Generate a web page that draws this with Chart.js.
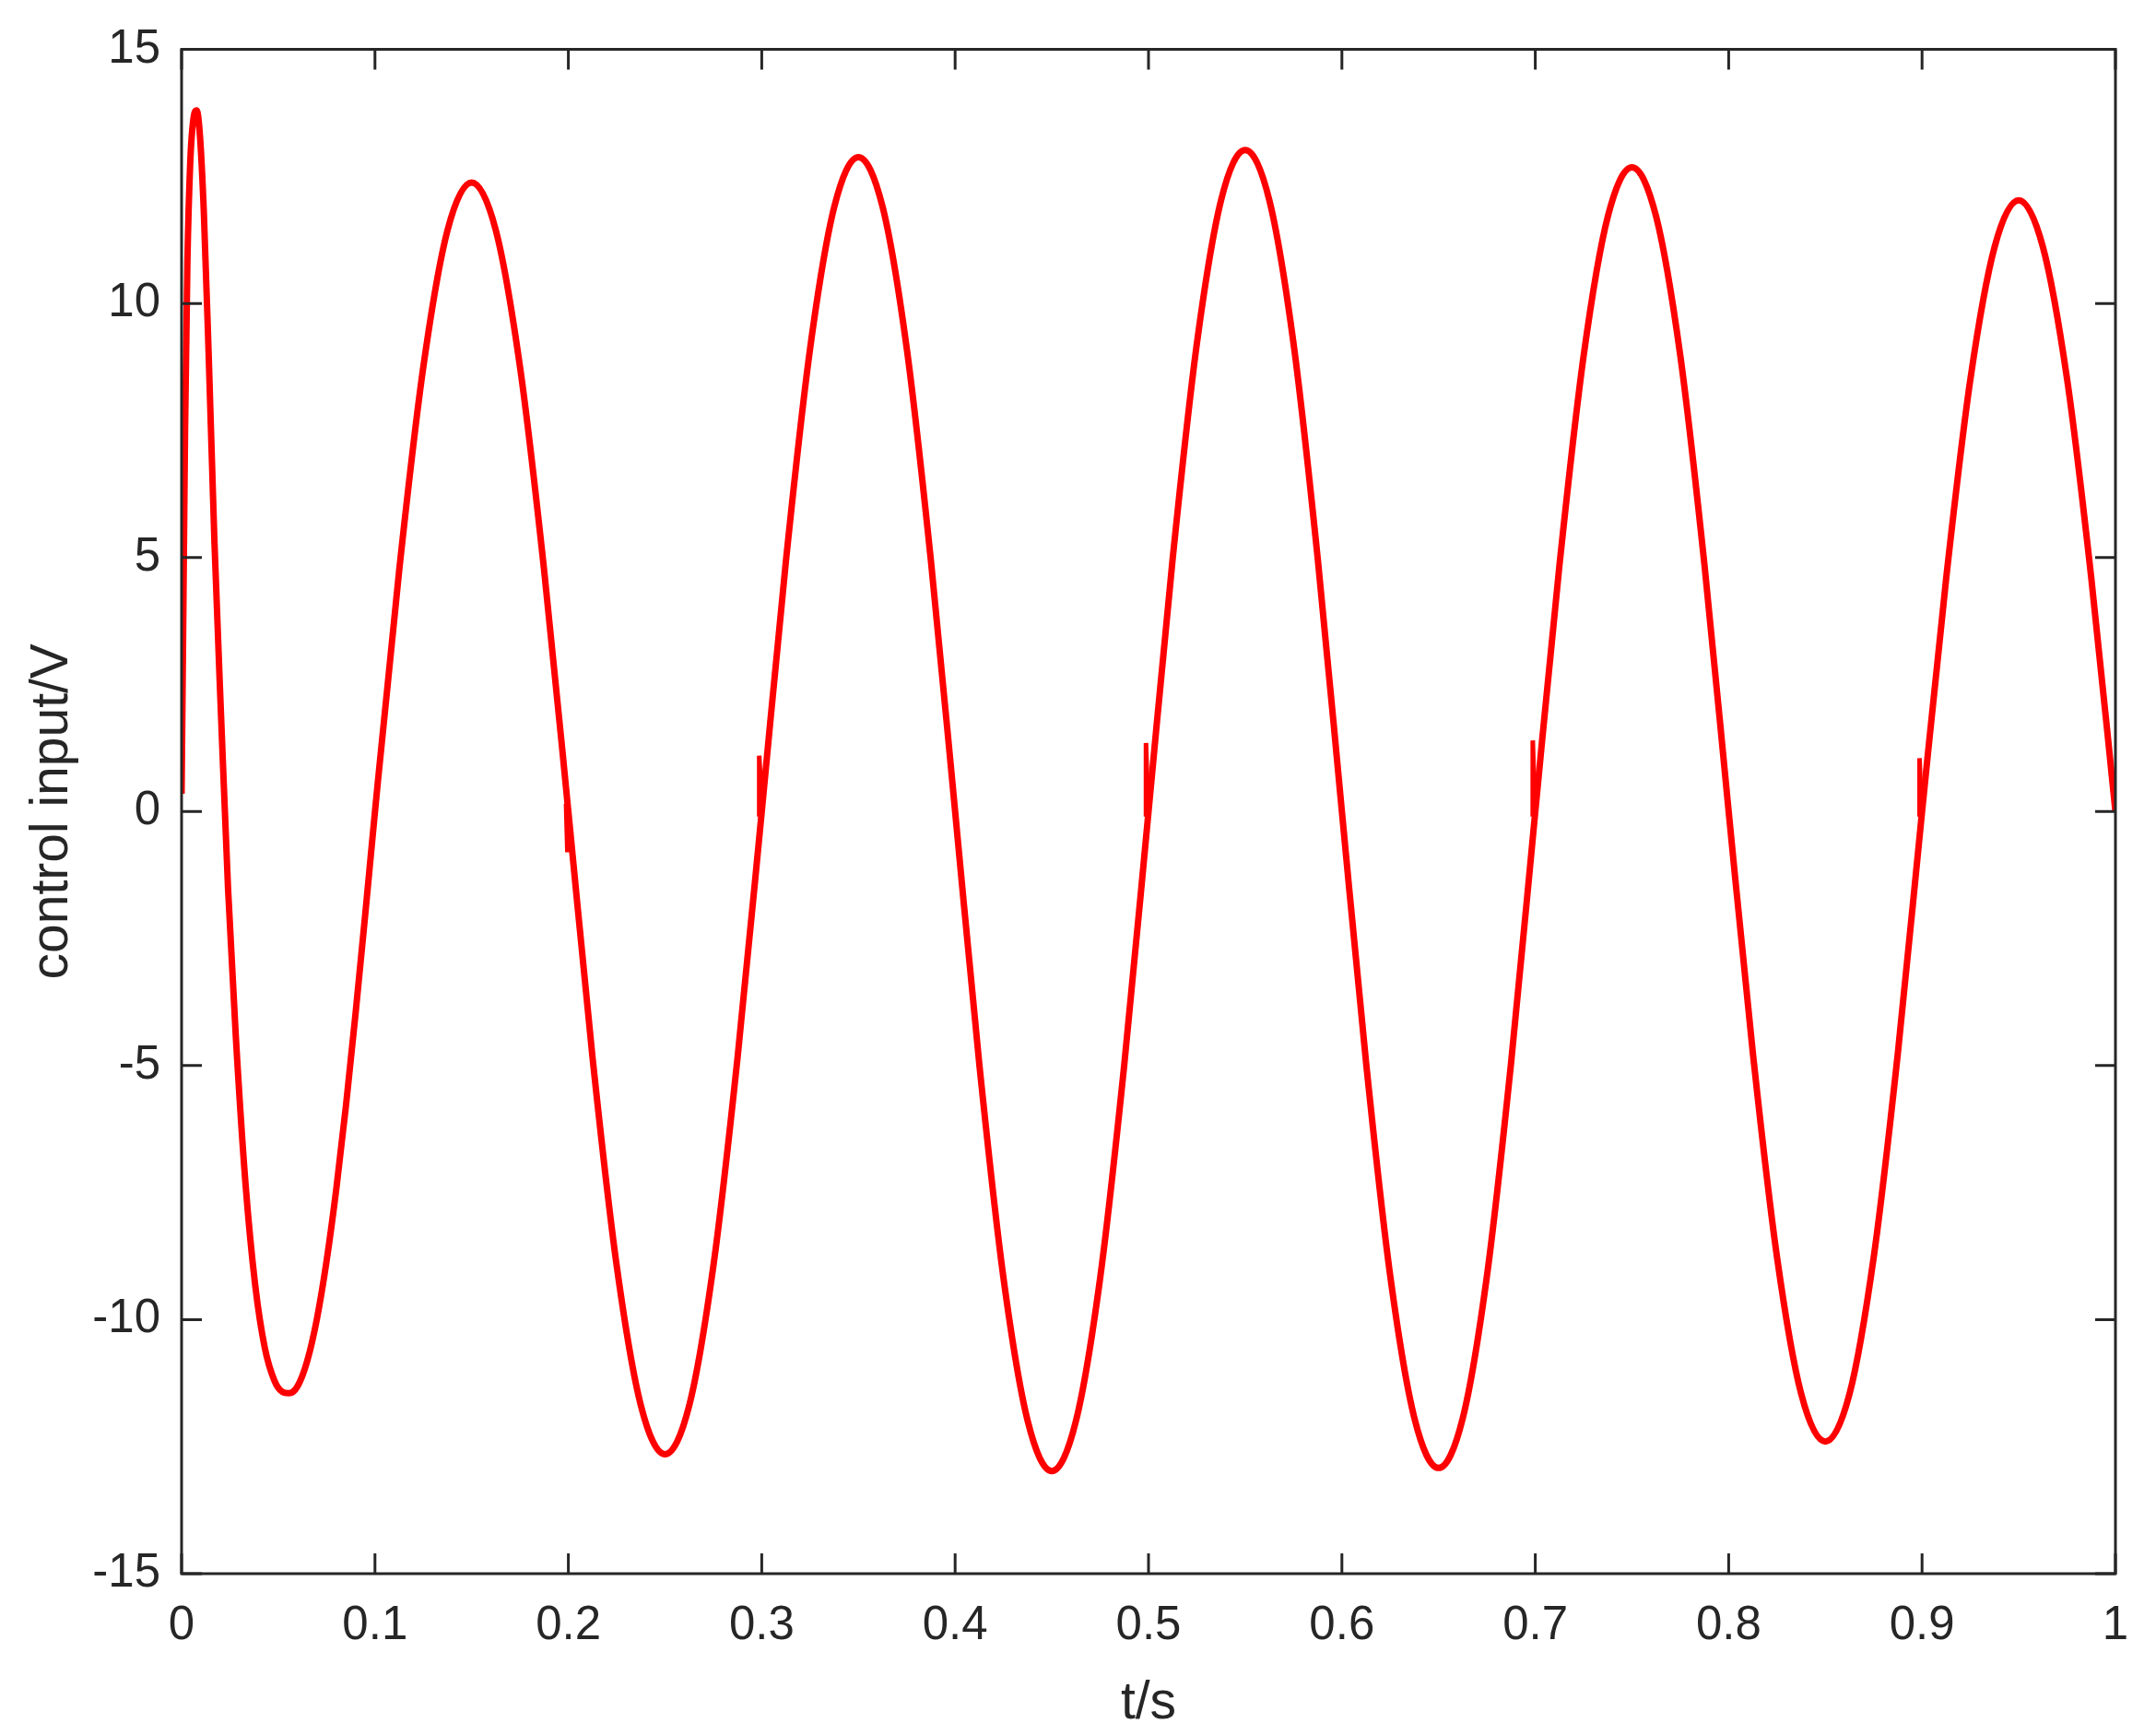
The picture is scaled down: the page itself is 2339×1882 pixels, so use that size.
<!DOCTYPE html>
<html>
<head>
<meta charset="utf-8">
<script src="https://cdn.jsdelivr.net/npm/chart.js@4/dist/chart.umd.min.js"></script>
<style>
  html, body { margin: 0; padding: 0; background: #ffffff; }
  #wrap { width: 2339px; height: 1882px; }
</style>
</head>
<body>
<div id="wrap"><canvas id="c" width="2339" height="1882"></canvas></div>
<script>
// ---- data ----
// main waveform
const timeValues = [
  0, 0.0008, 0.0018, 0.003, 0.0045, 0.006, 0.0078, 0.0095, 0.0115, 0.014, 0.017, 0.0205, 0.024,
  0.028, 0.033, 0.038, 0.043, 0.048, 0.052, 0.0555, 0.06, 0.065, 0.07, 0.075, 0.08, 0.085, 0.09, 0.095, 0.1,
  0.1125, 0.125, 0.1375, 0.15, 0.1625, 0.175, 0.1875, 0.2,
  0.2125, 0.225, 0.2375, 0.25, 0.2625, 0.275, 0.2875, 0.3,
  0.3125, 0.325, 0.3375, 0.35, 0.3625, 0.375, 0.3875, 0.4,
  0.4125, 0.425, 0.4375, 0.45, 0.4625, 0.475, 0.4875, 0.5,
  0.5125, 0.525, 0.5375, 0.55, 0.5625, 0.575, 0.5875, 0.6,
  0.6125, 0.625, 0.6375, 0.65, 0.6625, 0.675, 0.6875, 0.7,
  0.7125, 0.725, 0.7375, 0.75, 0.7625, 0.775, 0.7875, 0.8,
  0.8125, 0.825, 0.8375, 0.85, 0.8625, 0.875, 0.8875, 0.9,
  0.9125, 0.925, 0.9375, 0.95, 0.9625, 0.975, 0.9875, 1.0
];
const controlInput = [
  0.35, 3.5, 7.5, 10.8, 12.8, 13.6, 13.8, 13.3, 11.8, 9.0, 5.3, 1.8, -1.5,
  -4.4, -7.3, -9.3, -10.55, -11.2, -11.42, -11.45, -11.31, -10.81, -9.98, -8.84, -7.43, -5.79, -3.96, -2.01, 0,
  4.74, 8.75, 11.44, 12.38, 11.44, 8.75, 4.74, 0,
  -4.84, -8.94, -11.69, -12.65, -11.69, -8.94, -4.84, 0,
  4.93, 9.11, 11.9, 12.88, 11.9, 9.11, 4.93, 0,
  -4.97, -9.18, -11.99, -12.98, -11.99, -9.18, -4.97, 0,
  4.98, 9.21, 12.03, 13.02, 12.03, 9.21, 4.98, 0,
  -4.94, -9.14, -11.94, -12.92, -11.94, -9.14, -4.94, 0,
  4.85, 8.97, 11.71, 12.68, 11.71, 8.97, 4.85, 0,
  -4.75, -8.77, -11.46, -12.4, -11.46, -8.77, -4.75, 0,
  4.6, 8.51, 11.11, 12.03, 11.11, 8.51, 4.6, 0
];
// small switching spikes near the zero crossings
const glitchTimes = [
  [0.1988, 0.1995, 0.2003],
  [0.2986, 0.2987, 0.2993, 0.3008],
  [0.4986, 0.4987, 0.4993, 0.5008],
  [0.6986, 0.6987, 0.6993, 0.7008],
  [0.8986, 0.8987, 0.8993, 0.9008]
];
const glitchValues = [
  [0.15, -0.8, -0.3],
  [-0.1, 1.1, 0.65, 0.55],
  [-0.1, 1.35, 0.6, 0.55],
  [-0.1, 1.4, 0.6, 0.55],
  [-0.1, 1.05, 0.35, 0.45]
];
const xTickValues = [0, 0.1, 0.2, 0.3, 0.4, 0.5, 0.6, 0.7, 0.8, 0.9, 1];
const xTickLabels = ['0', '0.1', '0.2', '0.3', '0.4', '0.5', '0.6', '0.7', '0.8', '0.9', '1'];
const yTickValues = [-15, -10, -5, 0, 5, 10, 15];
const yTickLabels = ['-15', '-10', '-5', '0', '5', '10', '15'];
const xAxisTitle = 't/s';
const yAxisTitle = 'control input/V';

// ---- chart ----
const AXIS_COLOR = '#262626';
const LINE_COLOR = '#ff0000';
const FONT_FAMILY = "'Liberation Sans', Arial, Helvetica, sans-serif";
const mainPoints = timeValues.map((t, i) => ({ x: t, y: controlInput[i] }));

const datasets = [{
  data: mainPoints,
  borderColor: LINE_COLOR,
  borderWidth: 7,
  pointRadius: 0,
  fill: false,
  cubicInterpolationMode: 'monotone'
}];
glitchTimes.forEach((ts, k) => {
  datasets.push({
    data: ts.map((t, i) => ({ x: t, y: glitchValues[k][i] })),
    borderColor: LINE_COLOR,
    borderWidth: 5,
    pointRadius: 0,
    fill: false,
    tension: 0
  });
});

const matlabFrame = {
  id: 'matlabFrame',
  afterDatasetsDraw(chart) {
    const { ctx, chartArea: a, scales } = chart;
    const tick = 22;
    ctx.save();
    ctx.strokeStyle = AXIS_COLOR;
    ctx.lineWidth = 3;
    ctx.lineCap = 'square';
    ctx.beginPath();
    ctx.rect(a.left, a.top, a.right - a.left, a.bottom - a.top);
    ctx.stroke();
    ctx.lineCap = 'butt';
    ctx.beginPath();
    xTickValues.forEach(v => {
      const px = scales.x.getPixelForValue(v);
      ctx.moveTo(px, a.bottom); ctx.lineTo(px, a.bottom - tick);
      ctx.moveTo(px, a.top); ctx.lineTo(px, a.top + tick);
    });
    yTickValues.forEach(v => {
      const py = scales.y.getPixelForValue(v);
      ctx.moveTo(a.left, py); ctx.lineTo(a.left + tick, py);
      ctx.moveTo(a.right, py); ctx.lineTo(a.right - tick, py);
    });
    ctx.stroke();
    ctx.restore();
  }
};

Chart.defaults.font.family = FONT_FAMILY;
Chart.defaults.color = AXIS_COLOR;

new Chart(document.getElementById('c'), {
  type: 'line',
  data: { datasets },
  options: {
    responsive: false,
    animation: false,
    devicePixelRatio: 1,
    layout: { padding: { top: 49, right: 44, left: 0, bottom: 0 } },
    plugins: { legend: { display: false }, tooltip: { enabled: false } },
    scales: {
      x: {
        type: 'linear',
        min: 0, max: 1,
        afterFit(scale) { scale.height = 175; },
        afterBuildTicks(scale) { scale.ticks = xTickValues.map(v => ({ value: v })); },
        ticks: {
          autoSkip: false,
          maxRotation: 0,
          padding: 26,
          font: { size: 51 },
          color: AXIS_COLOR,
          callback: (v) => { const i = xTickValues.findIndex(t => Math.abs(t - v) < 1e-9); return i >= 0 ? xTickLabels[i] : ''; }
        },
        grid: { display: false, drawTicks: false },
        border: { display: false },
        title: { display: true, text: xAxisTitle, font: { size: 57 }, color: AXIS_COLOR, padding: { top: 0, bottom: 0 } }
      },
      y: {
        type: 'linear',
        min: -15, max: 15,
        afterFit(scale) { scale.width = 197; },
        afterBuildTicks(scale) { scale.ticks = yTickValues.map(v => ({ value: v })); },
        ticks: {
          autoSkip: false,
          padding: 23,
          font: { size: 51 },
          color: AXIS_COLOR,
          callback: (v) => { const i = yTickValues.indexOf(v); return i >= 0 ? yTickLabels[i] : ''; }
        },
        grid: { display: false, drawTicks: false },
        border: { display: false },
        title: { display: true, text: yAxisTitle, font: { size: 57 }, color: AXIS_COLOR, padding: { top: 23, bottom: 0 } }
      }
    }
  },
  plugins: [matlabFrame]
});
</script>
</body>
</html>
